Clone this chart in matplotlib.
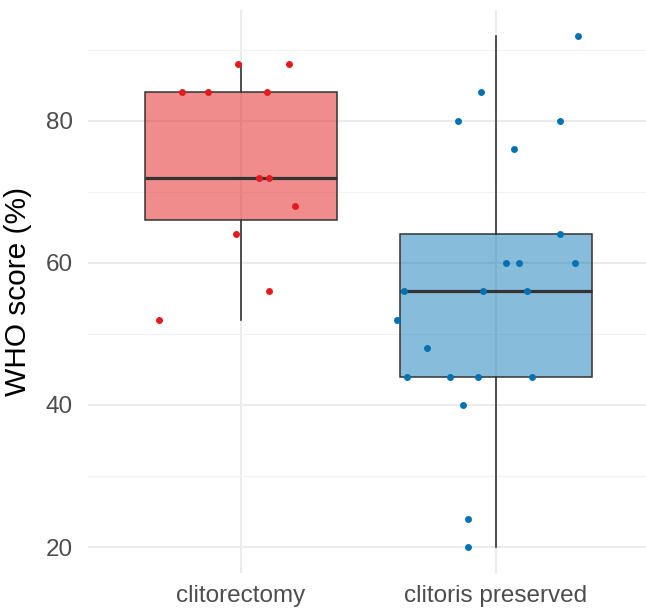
import matplotlib
matplotlib.use("Agg")
import matplotlib.pyplot as plt

plt.rcParams['font.family'] = ['Liberation Sans', 'DejaVu Sans']

groups = ['clitorectomy', 'clitoris preserved']

# WHO scores, with the horizontal jitter of each point
ecto_score = [88, 88, 84, 84, 84, 72, 72, 68, 64, 56, 52]
ecto_jitter = [-0.01, 0.19, -0.23, -0.13, 0.10, 0.07, 0.11, 0.21, -0.02, 0.11, -0.32]
pres_score = [92, 84, 80, 80, 76, 64, 60, 60, 60, 56, 56, 56, 52, 48,
              44, 44, 44, 44, 40, 24, 20]
pres_jitter = [0.32, -0.06, -0.15, 0.25, 0.07, 0.25, 0.04, 0.09, 0.31, -0.36,
               -0.05, 0.12, -0.39, -0.27, -0.35, -0.18, -0.07, 0.14, -0.13,
               -0.11, -0.11]

point_cols = ['#E41A1C', '#0072B2']
fill_alpha = [0.5, 0.47]
edge = '#333333'

fig = plt.figure(figsize=(6.46, 6.11), dpi=100)
ax = fig.add_axes([88 / 646, 38.4 / 611, 561 / 646, 562.6 / 611])

bp = ax.boxplot([ecto_score, pres_score], positions=[1, 2], widths=0.75,
                patch_artist=True, showfliers=False, whis=1.5,
                showcaps=False,
                medianprops=dict(color=edge, linewidth=2.3),
                whiskerprops=dict(color=edge, linewidth=1.2),
                boxprops=dict(edgecolor=edge, linewidth=1.1), zorder=2)
for patch, c, a in zip(bp['boxes'], point_cols, fill_alpha):
    patch.set_facecolor(matplotlib.colors.to_rgba(c, a))

ax.scatter([1 + j for j in ecto_jitter], ecto_score, s=25, color=point_cols[0],
           linewidths=0, zorder=3)
ax.scatter([2 + j for j in pres_jitter], pres_score, s=25, color=point_cols[1],
           linewidths=0, zorder=3)

ax.set_xlim(0.4, 2.6)
ax.set_ylim(16.4, 95.6)
ax.set_yticks([20, 40, 60, 80])
ax.set_yticks([30, 50, 70, 90], minor=True)
ax.set_xticks([1, 2])
ax.set_xticklabels(groups)

ax.grid(True, which='major', color='#EBEBEB', linewidth=1.5)
ax.grid(True, which='minor', axis='y', color='#F2F2F2', linewidth=0.8)
ax.set_axisbelow(True)
for s in ax.spines.values():
    s.set_visible(False)

ax.tick_params(axis='both', which='both', length=0, labelsize=17.5,
               labelcolor='#4D4D4D')
ax.tick_params(axis='y', pad=11)
ax.tick_params(axis='x', pad=9)
ax.set_ylabel('WHO score (%)', fontsize=21.5, color='black', labelpad=10)

fig.savefig('out.png', dpi=100)
